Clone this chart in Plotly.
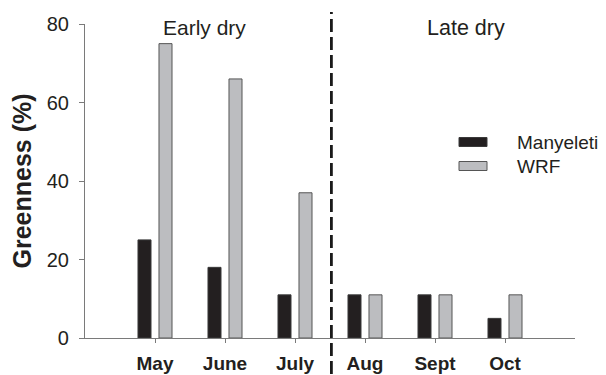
import plotly.graph_objects as go

months = ["May", "June", "July", "Aug", "Sept", "Oct"]
manyeleti = [25, 18, 11, 11, 11, 5]
wrf = [75, 66, 37, 11, 11, 11]
series_names = ["Manyeleti", "WRF"]
period_labels = ["Early dry", "Late dry"]
y_ticks = [0, 20, 40, 60, 80]

FONT = "Liberation Sans, Arial, sans-serif"
TXT = "#231f20"
AX = "#7a7a7a"

fig = go.Figure()
fig.add_trace(go.Bar(
    x=months, y=manyeleti, name=series_names[0],
    width=0.186, offset=-0.243,
    marker=dict(color="#231f20", line=dict(color="#3a3a3a", width=1)),
    showlegend=False,
))
fig.add_trace(go.Bar(
    x=months, y=wrf, name=series_names[1],
    width=0.186, offset=0.057,
    marker=dict(color="#bcbdc0", line=dict(color="#555555", width=1)),
    showlegend=False,
))

# dashed separator between early and late dry season
fig.add_shape(type="line", xref="x", yref="paper",
              x0=2.52, x1=2.52, y0=-0.115, y1=1.038,
              line=dict(color="#1a1a1a", width=2.8, dash="13px,5px"))

# period labels
fig.add_annotation(x=0.71, y=79.0, xref="x", yref="y", text=period_labels[0],
                   showarrow=False, font=dict(family=FONT, size=21, color=TXT))
fig.add_annotation(x=4.44, y=79.0, xref="x", yref="y", text=period_labels[1],
                   showarrow=False, font=dict(family=FONT, size=21.5, color=TXT))

# custom legend
leg_colors = [("#231f20", "#3a3a3a"), ("#bcbdc0", "#555555")]
leg_y = [142, 166]  # pixel rows
for (fill, edge), py, name in zip(leg_colors, leg_y, series_names):
    yc = 1 - (py - 24) / 314
    h = 4.5 / 314
    fig.add_shape(type="rect", xref="paper", yref="paper",
                  x0=(459 - 85) / 490, x1=(487 - 85) / 490,
                  y0=yc - h, y1=yc + h,
                  fillcolor=fill, line=dict(color=edge, width=1))
    fig.add_annotation(xref="paper", yref="paper", x=(515 - 85) / 490, y=yc,
                       xanchor="left", yanchor="middle", text=name, showarrow=False,
                       font=dict(family=FONT, size=19, color=TXT))

fig.update_layout(
    width=606, height=375,
    margin=dict(l=85, r=31, t=24, b=37),
    paper_bgcolor="white", plot_bgcolor="white",
    barmode="overlay",
    font=dict(family=FONT, color=TXT),
    xaxis=dict(
        type="category", categoryorder="array", categoryarray=months,
        range=[-1, 6], showgrid=False, zeroline=False, automargin=False,
        showline=True, linecolor=AX, linewidth=1.2,
        ticks="outside", ticklen=4, tickcolor=AX, tickwidth=1.2,
        ticklabelstandoff=4,
        tickfont=dict(family=FONT, size=19, color=TXT, weight="bold"),
    ),
    yaxis=dict(
        range=[0, 80], tickvals=y_ticks, showgrid=False, zeroline=False,
        automargin=False,
        showline=True, linecolor=AX, linewidth=1.2,
        ticks="outside", ticklen=5, tickcolor=AX, tickwidth=1.2,
        ticklabelstandoff=6,
        tickfont=dict(family=FONT, size=20, color=TXT),
        title=dict(text="Greenness (%)", standoff=7,
                   font=dict(family=FONT, size=25, color=TXT, weight="bold")),
    ),
)

fig.write_html("out.html")
